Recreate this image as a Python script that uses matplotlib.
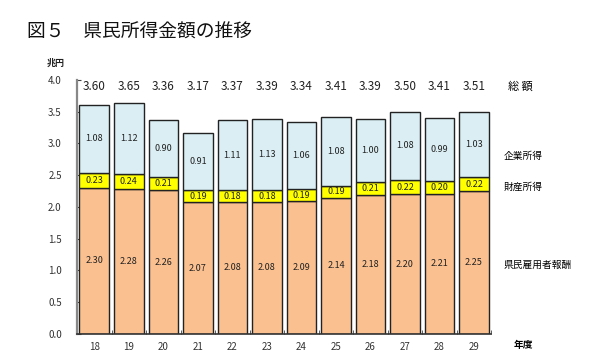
import matplotlib
matplotlib.use("Agg")
import matplotlib.pyplot as plt
import numpy as np

plt.rcParams['font.family'] = ['Noto Sans CJK JP', 'DejaVu Sans']

years = ['18', '19', '20', '21', '22', '23', '24', '25', '26', '27', '28', '29']
wages = [2.30, 2.28, 2.26, 2.07, 2.08, 2.08, 2.09, 2.14, 2.18, 2.20, 2.21, 2.25]
prop = [0.23, 0.24, 0.21, 0.19, 0.18, 0.18, 0.19, 0.19, 0.21, 0.22, 0.20, 0.22]
corp = [1.08, 1.12, 0.90, 0.91, 1.11, 1.13, 1.06, 1.08, 1.00, 1.08, 0.99, 1.03]
total = [3.60, 3.65, 3.36, 3.17, 3.37, 3.39, 3.34, 3.41, 3.39, 3.50, 3.41, 3.51]
series_names = ['県民雇用者報酬', '財産所得', '企業所得']
colors = ['#FAC090', '#FFFF00', '#DAEEF3']

fig = plt.figure(figsize=(6.02, 3.63), dpi=100)
ax = fig.add_axes([0.128, 0.080, 0.688, 0.700])

x = np.arange(len(years))
w = 0.86
bottom = np.zeros(len(years))
for vals, c in zip([wages, prop, corp], colors):
    v = np.array(vals)
    ax.bar(x, v, w, bottom=bottom, color=c, edgecolor='#222222', linewidth=1.0, zorder=2)
    for xi, b, h in zip(x, bottom, v):
        ax.text(xi, b + h / 2, f'{h:.2f}', ha='center', va='center', fontsize=6.5, color='#222222', zorder=3)
    bottom = bottom + v

for xi, t in zip(x, total):
    ax.text(xi, 3.89, f'{t:.2f}', ha='center', va='center', fontsize=8.5, color='#222222')

ax.set_xlim(-0.5, len(years) - 0.5)
ax.set_ylim(0, 4.0)
ax.set_yticks(np.arange(0, 4.01, 0.5))
ax.set_yticklabels([f'{t:.1f}' for t in np.arange(0, 4.01, 0.5)], fontsize=7, color='#333333')
ax.set_xticks(x)
ax.set_xticklabels(years, fontsize=7, color='#333333')
ax.tick_params(axis='x', length=0, pad=6)
ax.tick_params(axis='y', direction='in', length=3, pad=11, color='#444444')
ax.set_xticks(np.arange(-0.5, len(years), 1), minor=True)
ax.tick_params(axis='x', which='minor', direction='in', length=3, color='#444444')
for s in ['top', 'right']:
    ax.spines[s].set_visible(False)
ax.spines['left'].set_color('#888888')
ax.spines['left'].set_linewidth(1.6)
ax.spines['bottom'].set_color('#333333')
ax.spines['bottom'].set_linewidth(1.2)

fig.text(0.045, 0.912, '図５　県民所得金額の推移', fontsize=13.5, ha='left', va='center', color='#111111')
fig.text(0.093, 0.825, '兆円', fontsize=6.5, ha='center', va='center', fontweight='bold', color='#222222')

# series labels on right
ax.text(1.04, 3.89, '総 額', transform=ax.get_yaxis_transform(), fontsize=8, ha='left', va='center')
ax.text(1.03, 2.80, series_names[2], transform=ax.get_yaxis_transform(), fontsize=7, ha='left', va='center')
ax.text(1.03, 2.32, series_names[1], transform=ax.get_yaxis_transform(), fontsize=7, ha='left', va='center')
ax.text(1.03, 1.08, series_names[0], transform=ax.get_yaxis_transform(), fontsize=7, ha='left', va='center')
fig.text(0.853, 0.050, '年度', fontsize=7, ha='left', va='center', fontweight='bold')

fig.savefig('out.png', dpi=100)
